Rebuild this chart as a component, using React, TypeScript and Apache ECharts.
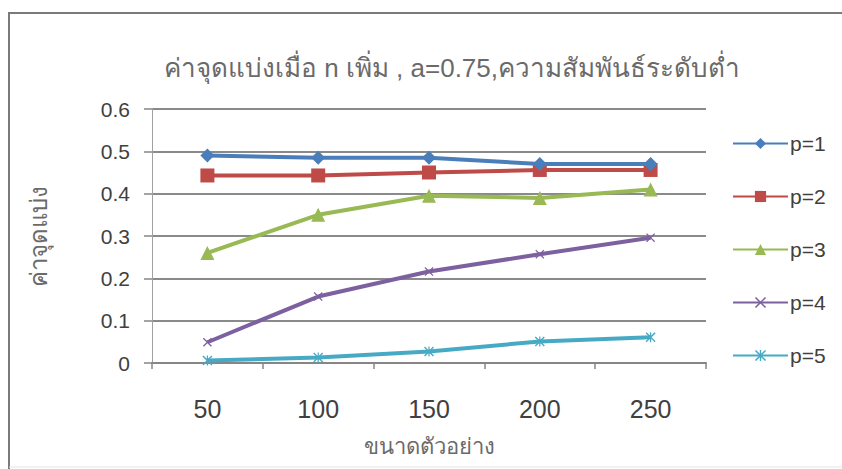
import React, { useEffect, useRef } from "react";
import * as echarts from "echarts";

// Sample sizes on the category axis
const sampleSizes = ["50", "100", "150", "200", "250"];

// Cut-off values per p
const p1 = [0.49, 0.485, 0.485, 0.47, 0.47];
const p2 = [0.443, 0.443, 0.45, 0.456, 0.456];
const p3 = [0.26, 0.35, 0.395, 0.39, 0.41];
const p4 = [0.049, 0.157, 0.216, 0.257, 0.296];
const p5 = [0.006, 0.013, 0.027, 0.051, 0.061];

const seriesNames = ["p=1", "p=2", "p=3", "p=4", "p=5"];
const seriesColors = ["#4A7EBB", "#BE4B48", "#98B954", "#7D60A0", "#46AAC5"];

const titleText = "ค่าจุดแบ่งเมื่อ n เพิ่ม , a=0.75,ความสัมพันธ์ระดับต่ำ";
const yAxisName = "ค่าจุดแบ่ง";
const xAxisName = "ขนาดตัวอย่าง";

const FONT = "'Liberation Sans', 'Noto Sans', 'DejaVu Sans', sans-serif";

// Cross and asterisk markers drawn as filled outlines
const crossSymbol =
  "path://M0,1L1,0L5,4L9,0L10,1L6,5L10,9L9,10L5,6L1,10L0,9L4,5Z";
const starSymbol =
  "path://M0,1L1,0L4.4,3.4L4.4,0L5.6,0L5.6,3.4L9,0L10,1L6,5L10,9L9,10L5.6,6.6L5.6,10L4.4,10L4.4,6.6L1,10L0,9L4,5Z";

export default function App() {
  const ref = useRef<HTMLDivElement>(null);

  useEffect(() => {
    if (!ref.current) return;
    const chart = echarts.init(ref.current, undefined, { renderer: "svg" });

    const values = [p1, p2, p3, p4, p5];
    const symbols = ["diamond", "rect", "triangle", crossSymbol, starSymbol];
    const symbolSizes = [14, 14, 14, 9, 10];

    chart.setOption({
      animation: false,
      backgroundColor: "#ffffff",
      title: {
        text: titleText,
        left: 447,
        top: 50,
        textAlign: "center",
        textStyle: {
          fontFamily: FONT,
          fontSize: 26,
          fontWeight: "normal",
          color: "#6a6a6a",
        },
      },
      graphic: [
        {
          type: "line",
          shape: { x1: 8, y1: 13, x2: 842, y2: 13 },
          style: { stroke: "#7a7a7a", lineWidth: 2 },
        },
        {
          type: "line",
          shape: { x1: 9, y1: 13, x2: 9, y2: 469 },
          style: { stroke: "#7a7a7a", lineWidth: 2 },
        },
        {
          type: "line",
          shape: { x1: 9, y1: 467, x2: 842, y2: 467 },
          style: { stroke: "#e4e4e4", lineWidth: 1 },
        },
      ],
      legend: {
        orient: "vertical",
        left: 727,
        top: 128,
        itemWidth: 55,
        itemHeight: 14,
        itemGap: 32,
        textStyle: {
          fontFamily: FONT,
          fontSize: 21,
          color: "#404040",
          padding: [0, 0, 0, -3],
        },
        data: seriesNames,
      },
      grid: {
        left: 152,
        right: 136,
        top: 109,
        bottom: 106,
        containLabel: false,
      },
      xAxis: {
        type: "category",
        data: sampleSizes,
        boundaryGap: true,
        name: xAxisName,
        nameLocation: "middle",
        nameGap: 72,
        nameTextStyle: {
          fontFamily: FONT,
          fontSize: 22,
          color: "#6a6a6a",
        },
        axisLine: { lineStyle: { color: "#868686", width: 2 } },
        axisTick: { show: true, length: 6, lineStyle: { color: "#868686", width: 1.5 } },
        axisLabel: {
          fontFamily: FONT,
          fontSize: 25,
          color: "#404040",
          margin: 33,
        },
        splitLine: { show: false },
      },
      yAxis: {
        type: "value",
        min: 0,
        max: 0.6,
        interval: 0.1,
        name: yAxisName,
        nameLocation: "middle",
        nameGap: 102,
        nameRotate: 90,
        nameTextStyle: {
          fontFamily: FONT,
          fontSize: 24,
          color: "#6a6a6a",
        },
        axisLine: { show: true, lineStyle: { color: "#a0a0a0", width: 1 } },
        axisTick: { show: true, length: 8, lineStyle: { color: "#868686", width: 1.5 } },
        axisLabel: {
          fontFamily: FONT,
          fontSize: 21,
          color: "#404040",
          margin: 22,
        },
        splitLine: { show: true, lineStyle: { color: "#8a8a8a", width: 2 } },
      },
      series: seriesNames.map((name, i) => ({
        name,
        type: "line",
        data: values[i],
        symbol: symbols[i],
        symbolSize: symbolSizes[i],
        showAllSymbol: true,
        lineStyle: { width: 4, color: seriesColors[i] },
        itemStyle: { color: seriesColors[i] },
        z: 10 - i,
      })),
    });

    return () => chart.dispose();
  }, []);

  return (
    <div
      ref={ref}
      style={{ position: "fixed", left: 0, top: 0, width: 842, height: 469 }}
    />
  );
}
